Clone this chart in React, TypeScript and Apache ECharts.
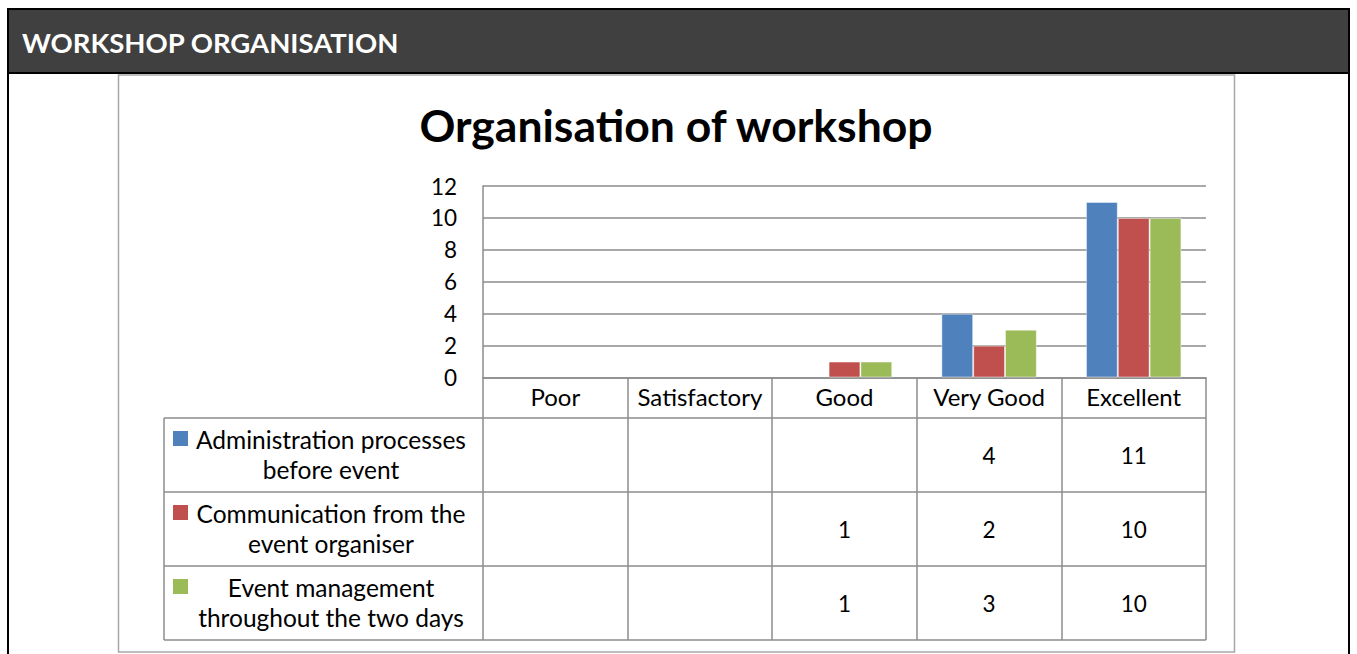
import React, { useEffect, useRef } from "react";
import * as echarts from "echarts";

const headerText = "WORKSHOP ORGANISATION";
const chartTitle = "Organisation of workshop";
const categories = ["Poor", "Satisfactory", "Good", "Very Good", "Excellent"];
const seriesNames = [
  "Administration processes before event",
  "Communication from the event organiser",
  "Event management throughout the two days",
];
const legendLines = [
  ["Administration processes", "before event"],
  ["Communication from the", "event organiser"],
  ["Event management", "throughout the two days"],
];
const adminValues: (number | null)[] = [null, null, null, 4, 11];
const commValues: (number | null)[] = [null, null, 1, 2, 10];
const eventValues: (number | null)[] = [null, null, 1, 3, 10];
const seriesValues = [adminValues, commValues, eventValues];
const seriesColors = ["#4F81BD", "#C0504D", "#9BBB59"];
const yMin = 0;
const yMax = 12;
const yInterval = 2;

const FONT = "Lato, 'Open Sans', sans-serif";
const GRID_GRAY = "#8C8C8C";

export default function App() {
  const ref = useRef<HTMLDivElement>(null);
  useEffect(() => {
    if (!ref.current) return;
    const chart = echarts.init(ref.current, undefined, { renderer: "svg" });
    const gridLeft = 483;
    const gridTop = 186;
    const gridWidth = 723;
    const gridHeight = 191.5;
    const tableBottom = 640;
    const rowTops = [418, 492, 566, 640];
    const tableLeft = 164;

    chart.setOption({
      animation: false,
      textStyle: { fontFamily: FONT },
      grid: {
        left: gridLeft,
        top: gridTop,
        width: gridWidth,
        height: gridHeight,
        containLabel: false,
      },
      xAxis: {
        type: "category",
        data: categories,
        axisLine: { show: true, lineStyle: { color: GRID_GRAY, width: 1.5 } },
        axisTick: {
          show: true,
          interval: 0,
          alignWithLabel: false,
          length: tableBottom - (gridTop + gridHeight),
          lineStyle: { color: GRID_GRAY, width: 1.5 },
        },
        axisLabel: {
          interval: 0,
          color: "#000",
          fontSize: 24,
          fontFamily: FONT,
          margin: 7,
          lineHeight: 24,
        },
      },
      yAxis: {
        type: "value",
        min: yMin,
        max: yMax,
        interval: yInterval,
        axisLine: { show: true, lineStyle: { color: GRID_GRAY, width: 1.5 } },
        axisTick: { show: false },
        splitLine: { show: true, lineStyle: { color: GRID_GRAY, width: 1.5 } },
        axisLabel: { color: "#000", fontSize: 22.5, fontFamily: FONT, margin: 26 },
      },
      series: seriesNames.map((name, i) => ({
        type: "bar",
        name,
        data: seriesValues[i],
        barGap: "0%",
        barCategoryGap: "34%",
        itemStyle: {
          color: seriesColors[i],
          borderColor: "rgba(255,255,255,0.45)",
          borderWidth: 1,
        },
      })),
    });

    const centers = categories.map((_, i) =>
      chart.convertToPixel({ xAxisIndex: 0 }, i) as number
    );
    const gridRight = gridLeft + gridWidth;

    const graphics: any[] = [];
    graphics.push({
      type: "rect",
      shape: { x: 8, y: 9, width: 1341, height: 64 },
      style: { fill: "#404040", stroke: "#000", lineWidth: 2 },
      z: 1,
    });
    graphics.push({
      type: "line",
      shape: { x1: 8, y1: 73, x2: 8, y2: 654 },
      style: { stroke: "#000", lineWidth: 2 },
    });
    graphics.push({
      type: "line",
      shape: { x1: 1349, y1: 73, x2: 1349, y2: 654 },
      style: { stroke: "#000", lineWidth: 2 },
    });
    graphics.push({
      type: "text",
      x: 22,
      y: 42,
      style: {
        text: headerText,
        fill: "#fff",
        font: `bold 27.5px ${FONT}`,
        textVerticalAlign: "middle",
      },
      z: 2,
    });
    graphics.push({
      type: "rect",
      shape: { x: 118.5, y: 75, width: 1116, height: 577 },
      style: { fill: "none", stroke: "#A6A6A6", lineWidth: 1.5 },
    });
    graphics.push({
      type: "text",
      x: 676,
      y: 124,
      style: {
        text: chartTitle,
        fill: "#000",
        font: `bold 44.5px ${FONT}`,
        textAlign: "center",
        textVerticalAlign: "middle",
      },
    });
    rowTops.forEach((y) => {
      graphics.push({
        type: "line",
        shape: { x1: tableLeft, y1: y, x2: gridRight, y2: y },
        style: { stroke: GRID_GRAY, lineWidth: 1.5 },
      });
    });
    graphics.push({
      type: "line",
      shape: { x1: tableLeft, y1: rowTops[0], x2: tableLeft, y2: tableBottom },
      style: { stroke: GRID_GRAY, lineWidth: 1.5 },
    });
    seriesNames.forEach((_, s) => {
      const rowCenter = (rowTops[s] + rowTops[s + 1]) / 2;
      graphics.push({
        type: "rect",
        shape: { x: 173, y: rowCenter - 24, width: 15, height: 15 },
        style: { fill: seriesColors[s] },
      });
      graphics.push({
        type: "text",
        x: 331,
        y: rowCenter - 0.5,
        style: {
          text: legendLines[s].join("\n"),
          fill: "#000",
          font: `24.5px ${FONT}`,
          lineHeight: 30,
          textAlign: "center",
          textVerticalAlign: "middle",
        },
      });
      seriesValues[s].forEach((v, c) => {
        if (v === null) return;
        graphics.push({
          type: "text",
          x: centers[c],
          y: rowCenter,
          style: {
            text: String(v),
            fill: "#000",
            font: `22.5px ${FONT}`,
            textAlign: "center",
            textVerticalAlign: "middle",
          },
        });
      });
    });

    chart.setOption({ graphic: { elements: graphics } });
    return () => chart.dispose();
  }, []);

  return (
    <div
      ref={ref}
      style={{
        position: "absolute",
        left: 0,
        top: 0,
        width: 1357,
        height: 654,
        background: "#fff",
      }}
    />
  );
}
